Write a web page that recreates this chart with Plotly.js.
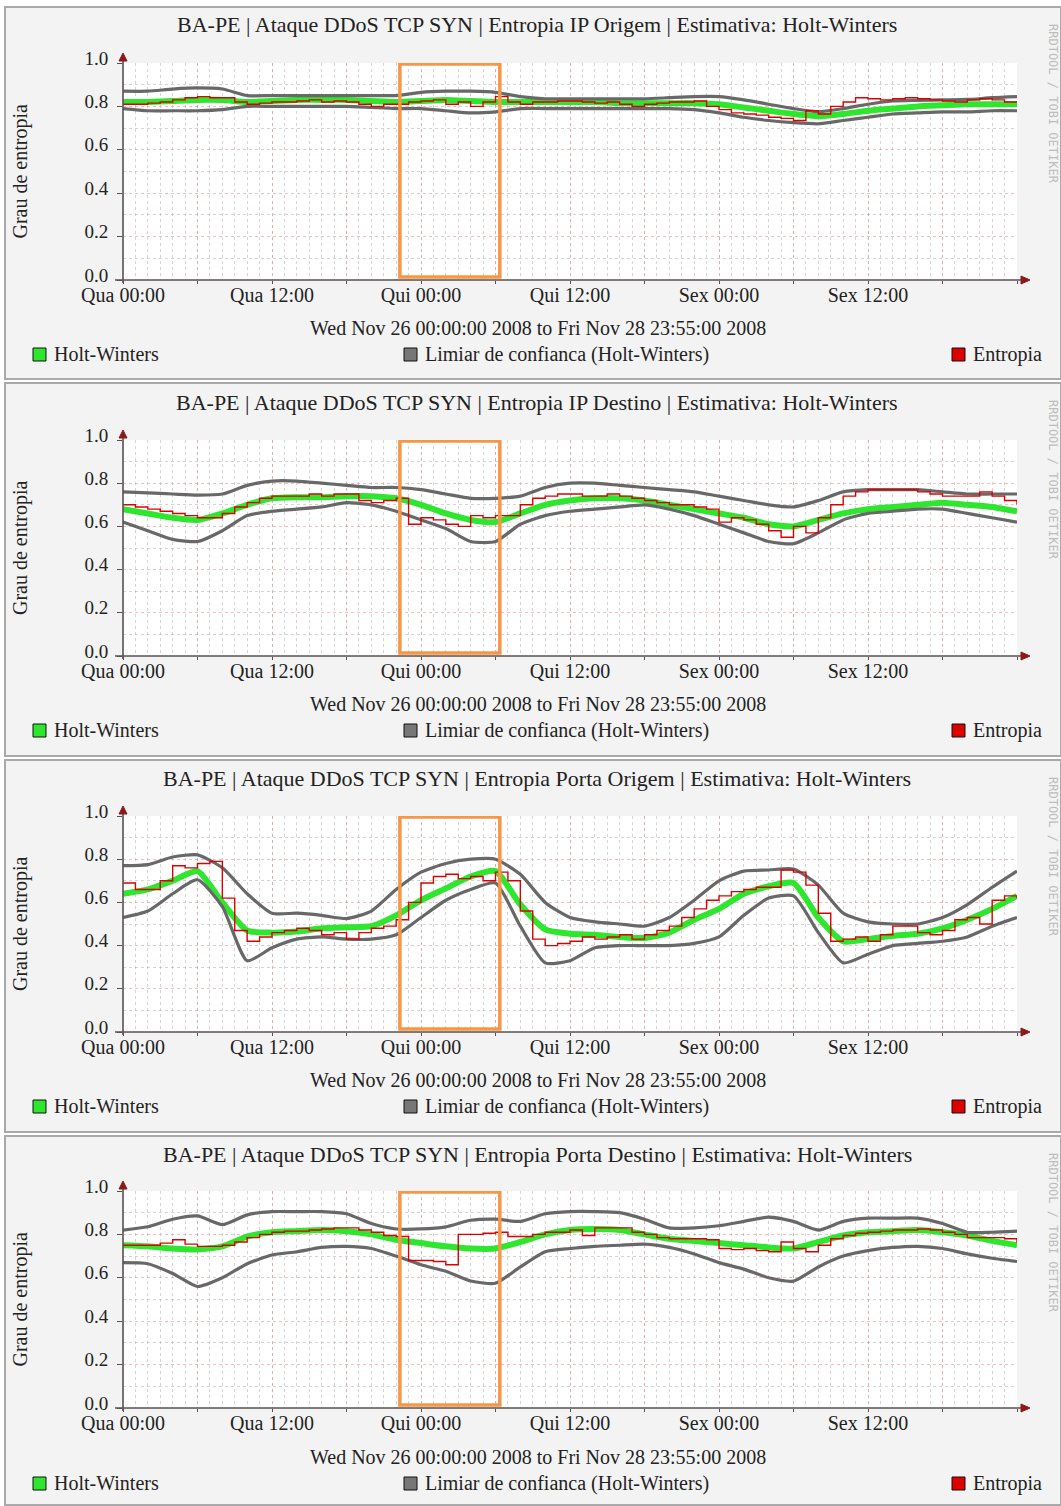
<!DOCTYPE html>
<html>
<head>
<meta charset="utf-8">
<script src="https://cdn.plot.ly/plotly-3.0.1.min.js"></script>
<style>html,body{margin:0;padding:0;background:#fff;}#chart{width:1061px;height:1506px;}</style>
</head>
<body>
<div id="chart"></div>
<script>
// ---------- DATA ----------
const hours2h = [0,2,4,6,8,10,12,14,16,18,20,22,24,26,28,30,32,34,36,38,40,42,44,46,48,50,52,54,56,58,60,62,64,66,68,70,72];
const hours1h = [0,1,2,3,4,5,6,7,8,9,10,11,12,13,14,15,16,17,18,19,20,21,22,23,24,25,26,27,28,29,30,31,32,33,34,35,36,37,38,39,40,41,42,43,44,45,46,47,48,49,50,51,52,53,54,55,56,57,58,59,60,61,62,63,64,65,66,67,68,69,70,71,72];
const tickHours = [0,6,12,18,24,30,36,42,48,54,60,66,72];
const tickLabels = ['Qua 00:00','','Qua 12:00','','Qui 00:00','','Qui 12:00','','Sex 00:00','','Sex 12:00','',''];

const panelTitles = [
  'BA-PE | Ataque DDoS TCP SYN | Entropia IP Origem | Estimativa: Holt-Winters',
  'BA-PE | Ataque DDoS TCP SYN | Entropia IP Destino | Estimativa: Holt-Winters',
  'BA-PE | Ataque DDoS TCP SYN | Entropia Porta Origem | Estimativa: Holt-Winters',
  'BA-PE | Ataque DDoS TCP SYN | Entropia Porta Destino | Estimativa: Holt-Winters'
];
const periodText = 'Wed Nov 26 00:00:00 2008 to Fri Nov 28 23:55:00 2008';
const yAxisLabel = 'Grau de entropia';
const legendLabels = ['Holt-Winters', 'Limiar de confianca (Holt-Winters)', 'Entropia'];
const watermark = 'RRDTOOL / TOBI OETIKER';

// Panel 1: Entropia IP Origem
const hwIpOrigem    = [0.82,0.82,0.825,0.83,0.83,0.82,0.825,0.83,0.83,0.83,0.825,0.82,0.825,0.83,0.825,0.82,0.82,0.82,0.82,0.82,0.815,0.815,0.815,0.815,0.81,0.795,0.78,0.765,0.755,0.765,0.78,0.79,0.80,0.805,0.81,0.81,0.81];
const upperIpOrigem = [0.87,0.87,0.88,0.885,0.88,0.85,0.85,0.85,0.85,0.85,0.85,0.85,0.865,0.87,0.87,0.865,0.845,0.835,0.835,0.835,0.835,0.835,0.84,0.845,0.845,0.83,0.81,0.79,0.775,0.79,0.81,0.825,0.828,0.83,0.832,0.84,0.845];
const lowerIpOrigem = [0.79,0.78,0.78,0.78,0.785,0.80,0.80,0.80,0.80,0.80,0.795,0.79,0.79,0.78,0.77,0.775,0.79,0.79,0.79,0.79,0.79,0.79,0.79,0.785,0.77,0.75,0.735,0.725,0.72,0.735,0.75,0.765,0.77,0.775,0.775,0.78,0.78];
const entIpOrigem   = [0.81,0.81,0.815,0.82,0.83,0.84,0.845,0.84,0.84,0.82,0.81,0.815,0.82,0.82,0.825,0.83,0.82,0.825,0.82,0.81,0.80,0.81,0.81,0.82,0.825,0.83,0.81,0.82,0.80,0.82,0.845,0.82,0.81,0.82,0.82,0.825,0.825,0.82,0.815,0.82,0.81,0.80,0.81,0.815,0.82,0.82,0.825,0.80,0.785,0.77,0.765,0.76,0.75,0.745,0.735,0.78,0.765,0.80,0.82,0.84,0.835,0.83,0.835,0.84,0.835,0.83,0.825,0.82,0.83,0.835,0.83,0.82,0.82];

// Panel 2: Entropia IP Destino
const hwIpDestino    = [0.68,0.66,0.64,0.63,0.66,0.70,0.73,0.735,0.735,0.74,0.74,0.73,0.70,0.66,0.63,0.62,0.66,0.70,0.72,0.73,0.73,0.72,0.70,0.68,0.66,0.64,0.61,0.60,0.63,0.66,0.68,0.69,0.70,0.71,0.70,0.69,0.67];
const upperIpDestino = [0.76,0.755,0.75,0.745,0.75,0.79,0.81,0.81,0.80,0.79,0.78,0.78,0.77,0.75,0.73,0.73,0.74,0.78,0.80,0.80,0.79,0.78,0.77,0.76,0.74,0.72,0.70,0.69,0.72,0.76,0.77,0.77,0.77,0.76,0.75,0.75,0.75];
const lowerIpDestino = [0.62,0.58,0.54,0.53,0.58,0.65,0.67,0.68,0.69,0.71,0.70,0.67,0.63,0.59,0.53,0.53,0.61,0.65,0.67,0.68,0.69,0.70,0.68,0.65,0.61,0.57,0.53,0.52,0.57,0.63,0.66,0.67,0.68,0.68,0.66,0.64,0.62];
const entIpDestino   = [0.70,0.69,0.68,0.67,0.66,0.65,0.64,0.64,0.66,0.69,0.71,0.73,0.74,0.74,0.74,0.75,0.74,0.75,0.75,0.72,0.71,0.72,0.73,0.61,0.64,0.63,0.61,0.60,0.65,0.64,0.65,0.65,0.70,0.73,0.74,0.75,0.75,0.74,0.74,0.75,0.74,0.73,0.72,0.71,0.70,0.70,0.69,0.68,0.62,0.64,0.63,0.61,0.58,0.55,0.60,0.57,0.64,0.70,0.74,0.76,0.77,0.77,0.77,0.77,0.76,0.75,0.74,0.74,0.74,0.76,0.74,0.72,0.70];

// Panel 3: Entropia Porta Origem
const hwPortaOrigem    = [0.64,0.66,0.70,0.745,0.60,0.47,0.46,0.465,0.48,0.485,0.49,0.54,0.61,0.665,0.72,0.745,0.59,0.475,0.455,0.45,0.44,0.435,0.46,0.52,0.57,0.64,0.675,0.69,0.53,0.42,0.43,0.445,0.455,0.48,0.52,0.57,0.63];
const upperPortaOrigem = [0.77,0.775,0.81,0.82,0.76,0.64,0.55,0.55,0.54,0.525,0.56,0.66,0.74,0.78,0.80,0.80,0.73,0.60,0.53,0.51,0.50,0.49,0.53,0.61,0.70,0.745,0.75,0.755,0.68,0.55,0.51,0.50,0.50,0.53,0.59,0.67,0.745];
const lowerPortaOrigem = [0.53,0.56,0.64,0.705,0.58,0.33,0.39,0.43,0.44,0.43,0.43,0.45,0.53,0.61,0.66,0.69,0.49,0.32,0.33,0.39,0.40,0.40,0.40,0.41,0.44,0.54,0.62,0.63,0.46,0.32,0.36,0.40,0.41,0.42,0.44,0.49,0.53];
const entPortaOrigem   = [0.69,0.66,0.66,0.70,0.77,0.76,0.78,0.79,0.62,0.47,0.42,0.44,0.46,0.47,0.48,0.47,0.45,0.46,0.43,0.46,0.48,0.49,0.52,0.60,0.69,0.72,0.73,0.71,0.72,0.70,0.74,0.70,0.56,0.43,0.40,0.41,0.42,0.44,0.43,0.44,0.45,0.43,0.45,0.47,0.49,0.53,0.57,0.61,0.63,0.65,0.66,0.67,0.67,0.75,0.74,0.68,0.55,0.42,0.43,0.44,0.42,0.45,0.49,0.49,0.46,0.45,0.47,0.52,0.53,0.50,0.61,0.63,0.62];

// Panel 4: Entropia Porta Destino
const hwPortaDestino    = [0.75,0.745,0.735,0.73,0.745,0.79,0.81,0.815,0.82,0.815,0.80,0.775,0.76,0.745,0.735,0.735,0.765,0.80,0.82,0.825,0.82,0.80,0.78,0.77,0.76,0.75,0.74,0.735,0.765,0.795,0.81,0.815,0.82,0.81,0.795,0.77,0.75];
const upperPortaDestino = [0.82,0.835,0.87,0.885,0.845,0.89,0.905,0.905,0.905,0.895,0.85,0.825,0.825,0.835,0.865,0.87,0.86,0.895,0.905,0.905,0.90,0.87,0.83,0.83,0.84,0.86,0.88,0.86,0.82,0.86,0.875,0.875,0.875,0.85,0.81,0.81,0.815];
const lowerPortaDestino = [0.67,0.665,0.62,0.56,0.60,0.665,0.705,0.72,0.74,0.745,0.735,0.70,0.66,0.63,0.585,0.575,0.65,0.72,0.735,0.745,0.75,0.755,0.74,0.71,0.67,0.64,0.60,0.585,0.65,0.70,0.725,0.74,0.745,0.735,0.71,0.69,0.675];
const entPortaDestino   = [0.75,0.75,0.75,0.76,0.775,0.755,0.745,0.745,0.75,0.765,0.785,0.80,0.81,0.815,0.815,0.82,0.825,0.83,0.83,0.82,0.81,0.795,0.79,0.68,0.68,0.675,0.66,0.80,0.80,0.805,0.81,0.79,0.79,0.80,0.81,0.81,0.82,0.795,0.83,0.83,0.83,0.81,0.80,0.785,0.78,0.78,0.78,0.775,0.735,0.73,0.735,0.725,0.72,0.765,0.735,0.72,0.75,0.78,0.795,0.805,0.81,0.815,0.82,0.82,0.825,0.82,0.81,0.80,0.785,0.785,0.785,0.78,0.76];

const panels = [
  {title: panelTitles[0], hw: hwIpOrigem, upper: upperIpOrigem, lower: lowerIpOrigem, ent: entIpOrigem},
  {title: panelTitles[1], hw: hwIpDestino, upper: upperIpDestino, lower: lowerIpDestino, ent: entIpDestino},
  {title: panelTitles[2], hw: hwPortaOrigem, upper: upperPortaOrigem, lower: lowerPortaOrigem, ent: entPortaOrigem},
  {title: panelTitles[3], hw: hwPortaDestino, upper: upperPortaDestino, lower: lowerPortaDestino, ent: entPortaDestino}
];

// ---------- LAYOUT GEOMETRY ----------
const W = 1061, H = 1506;
const PX = v => v / W;
const PY = v => 1 - v / H;
const FONT = 'Liberation Serif, DejaVu Serif, Times New Roman, serif';

const PANEL_TOP = [7, 383, 760, 1136];
const PANEL_BOTTOM = [379, 756, 1132, 1505];
const AX_Y0 = [280, 656, 1032, 1408];   // value 0.0
const AX_Y1 = [63, 440, 816, 1191];     // value 1.0
const TITLE_Y = [25, 402, 778, 1154];
const SUB_Y = [328, 704, 1080, 1457];
const LEG_Y = [354, 730, 1106, 1483];
const AX_X0 = 123, AX_X1 = 1017;

const GREEN = '#2ee62e', GRAY = '#686868', RED = '#dd0000', ORANGE = '#f79646';
const AXIS_COL = '#5a5050', ARROW_COL = '#8b1a1a';

const traces = [];
const shapes = [];
const annotations = [];
const layout = {
  width: W, height: H,
  margin: {l: 0, r: 0, t: 0, b: 0},
  paper_bgcolor: '#ffffff',
  plot_bgcolor: 'rgba(0,0,0,0)',
  showlegend: false,
  font: {family: FONT, color: '#222'},
  shapes: shapes,
  annotations: annotations
};

panels.forEach((p, k) => {
  const sx = k === 0 ? '' : String(k + 1);
  const xref = 'x' + sx, yref = 'y' + sx;

  layout['xaxis' + sx] = {
    domain: [PX(AX_X0), PX(AX_X1)],
    range: [0, 72],
    anchor: yref,
    tickmode: 'array',
    tickvals: tickHours,
    ticktext: tickLabels,
    showgrid: true,
    gridcolor: 'rgba(225,130,130,0.45)',
    griddash: 'dot',
    gridwidth: 1,
    minor: {tickmode: 'linear', tick0: 0, dtick: 1, showgrid: true,
            gridcolor: 'rgba(160,160,160,0.45)', griddash: 'dot', gridwidth: 1, ticks: ''},
    zeroline: false,
    showline: false,
    ticks: 'outside', ticklen: 3, tickcolor: AXIS_COL, tickwidth: 1,
    ticklabelstandoff: -6,
    tickfont: {family: FONT, size: 20, color: '#222'},
    fixedrange: true
  };
  layout['yaxis' + sx] = {
    domain: [PY(AX_Y0[k]), PY(AX_Y1[k])],
    range: [0, 1],
    anchor: xref,
    tickmode: 'linear', tick0: 0, dtick: 0.2,
    tickformat: '.1f',
    showgrid: true,
    gridcolor: 'rgba(225,130,130,0.5)',
    griddash: 'dot',
    gridwidth: 1,
    minor: {tickmode: 'linear', tick0: 0, dtick: 0.1, showgrid: true,
            gridcolor: 'rgba(160,160,160,0.45)', griddash: 'dot', gridwidth: 1, ticks: ''},
    zeroline: false,
    showline: false,
    ticks: 'outside', ticklen: 5, tickcolor: AXIS_COL, tickwidth: 1,
    ticklabelstandoff: 5,
    ticklabelshift: -5,
    tickfont: {family: FONT, size: 19, color: '#222'},
    fixedrange: true
  };

  // traces
  const base = {xaxis: xref, yaxis: yref, mode: 'lines', hoverinfo: 'skip'};
  traces.push(Object.assign({}, base, {x: hours2h, y: p.hw, name: legendLabels[0],
    line: {color: GREEN, width: 6, shape: 'spline', smoothing: 0.6}}));
  traces.push(Object.assign({}, base, {x: hours2h, y: p.upper, name: legendLabels[1],
    line: {color: GRAY, width: 3.2, shape: 'spline', smoothing: 0.6}}));
  traces.push(Object.assign({}, base, {x: hours2h, y: p.lower, name: legendLabels[1],
    line: {color: GRAY, width: 3.2, shape: 'spline', smoothing: 0.6}}));
  traces.push(Object.assign({}, base, {x: hours1h, y: p.ent, name: legendLabels[2],
    line: {color: RED, width: 1.4, shape: 'hv'}}));

  // panel background
  shapes.push({type: 'rect', xref: 'paper', yref: 'paper', layer: 'below',
    x0: PX(5), x1: PX(1061), y0: PY(PANEL_BOTTOM[k]), y1: PY(PANEL_TOP[k]),
    fillcolor: '#f3f3f3', line: {color: '#a9a9a9', width: 2}});
  // canvas
  shapes.push({type: 'rect', xref: 'paper', yref: 'paper', layer: 'below',
    x0: PX(AX_X0), x1: PX(AX_X1), y0: PY(AX_Y0[k]), y1: PY(AX_Y1[k]),
    fillcolor: '#ffffff', line: {width: 0}});
  // axis lines
  shapes.push({type: 'line', xref: 'paper', yref: 'paper', layer: 'above',
    x0: PX(115), x1: PX(1022), y0: PY(AX_Y0[k]), y1: PY(AX_Y0[k]),
    line: {color: AXIS_COL, width: 1.6}});
  shapes.push({type: 'line', xref: 'paper', yref: 'paper', layer: 'above',
    x0: PX(AX_X0), x1: PX(AX_X0), y0: PY(AX_Y0[k] + 3), y1: PY(AX_Y1[k] - 3),
    line: {color: AXIS_COL, width: 1.6}});
  // arrows
  const up = 'M ' + PX(AX_X0) + ',' + PY(AX_Y1[k] - 10) + ' L ' + PX(AX_X0 - 4) + ',' + PY(AX_Y1[k] - 2) +
             ' L ' + PX(AX_X0 + 4) + ',' + PY(AX_Y1[k] - 2) + ' Z';
  const right = 'M ' + PX(1030) + ',' + PY(AX_Y0[k]) + ' L ' + PX(1021) + ',' + PY(AX_Y0[k] - 4) +
                ' L ' + PX(1021) + ',' + PY(AX_Y0[k] + 4) + ' Z';
  shapes.push({type: 'path', xref: 'paper', yref: 'paper', layer: 'above', path: up,
    fillcolor: ARROW_COL, line: {color: ARROW_COL, width: 1}});
  shapes.push({type: 'path', xref: 'paper', yref: 'paper', layer: 'above', path: right,
    fillcolor: ARROW_COL, line: {color: ARROW_COL, width: 1}});
  // highlighted attack window (orange box)
  shapes.push({type: 'rect', xref: xref, yref: yref, layer: 'above',
    x0: 22.3, x1: 30.35, y0: 0.014, y1: 0.995,
    fillcolor: 'rgba(0,0,0,0)', line: {color: ORANGE, width: 3.5}});
  // legend squares
  const legX = [33, 404, 952];
  const legC = [GREEN, '#777777', RED];
  legX.forEach((lx, i) => {
    shapes.push({type: 'rect', xref: 'paper', yref: 'paper', layer: 'above',
      x0: PX(lx), x1: PX(lx + 13), y0: PY(LEG_Y[k] + 7), y1: PY(LEG_Y[k] - 6),
      fillcolor: legC[i], line: {color: '#111', width: 1}});
  });
  const legTX = [52, 423, 971];
  legTX.forEach((tx, i) => {
    annotations.push({xref: 'paper', yref: 'paper', x: PX(tx), y: PY(LEG_Y[k]),
      xanchor: 'left', yanchor: 'middle', showarrow: false, text: legendLabels[i],
      font: {family: FONT, size: 20, color: '#222'}});
  });

  // titles
  annotations.push({xref: 'paper', yref: 'paper', x: PX(537), y: PY(TITLE_Y[k]),
    xanchor: 'center', yanchor: 'middle', showarrow: false, text: p.title,
    font: {family: FONT, size: 22, color: '#222'}});
  annotations.push({xref: 'paper', yref: 'paper', x: PX(538), y: PY(SUB_Y[k]),
    xanchor: 'center', yanchor: 'middle', showarrow: false, text: periodText,
    font: {family: FONT, size: 20, color: '#222'}});
  annotations.push({xref: 'paper', yref: 'paper', x: PX(20), y: PY((AX_Y0[k] + AX_Y1[k]) / 2),
    xanchor: 'center', yanchor: 'middle', showarrow: false, text: yAxisLabel, textangle: -90,
    font: {family: FONT, size: 20, color: '#222'}});
  annotations.push({xref: 'paper', yref: 'paper', x: PX(1053), y: PY(PANEL_TOP[k] + 97),
    xanchor: 'center', yanchor: 'middle', showarrow: false, text: watermark, textangle: 90,
    font: {family: 'DejaVu Sans Mono, monospace', size: 12, color: '#bdbdbd'}});
});

Plotly.newPlot('chart', traces, layout, {staticPlot: true, displayModeBar: false});
</script>
</body>
</html>
